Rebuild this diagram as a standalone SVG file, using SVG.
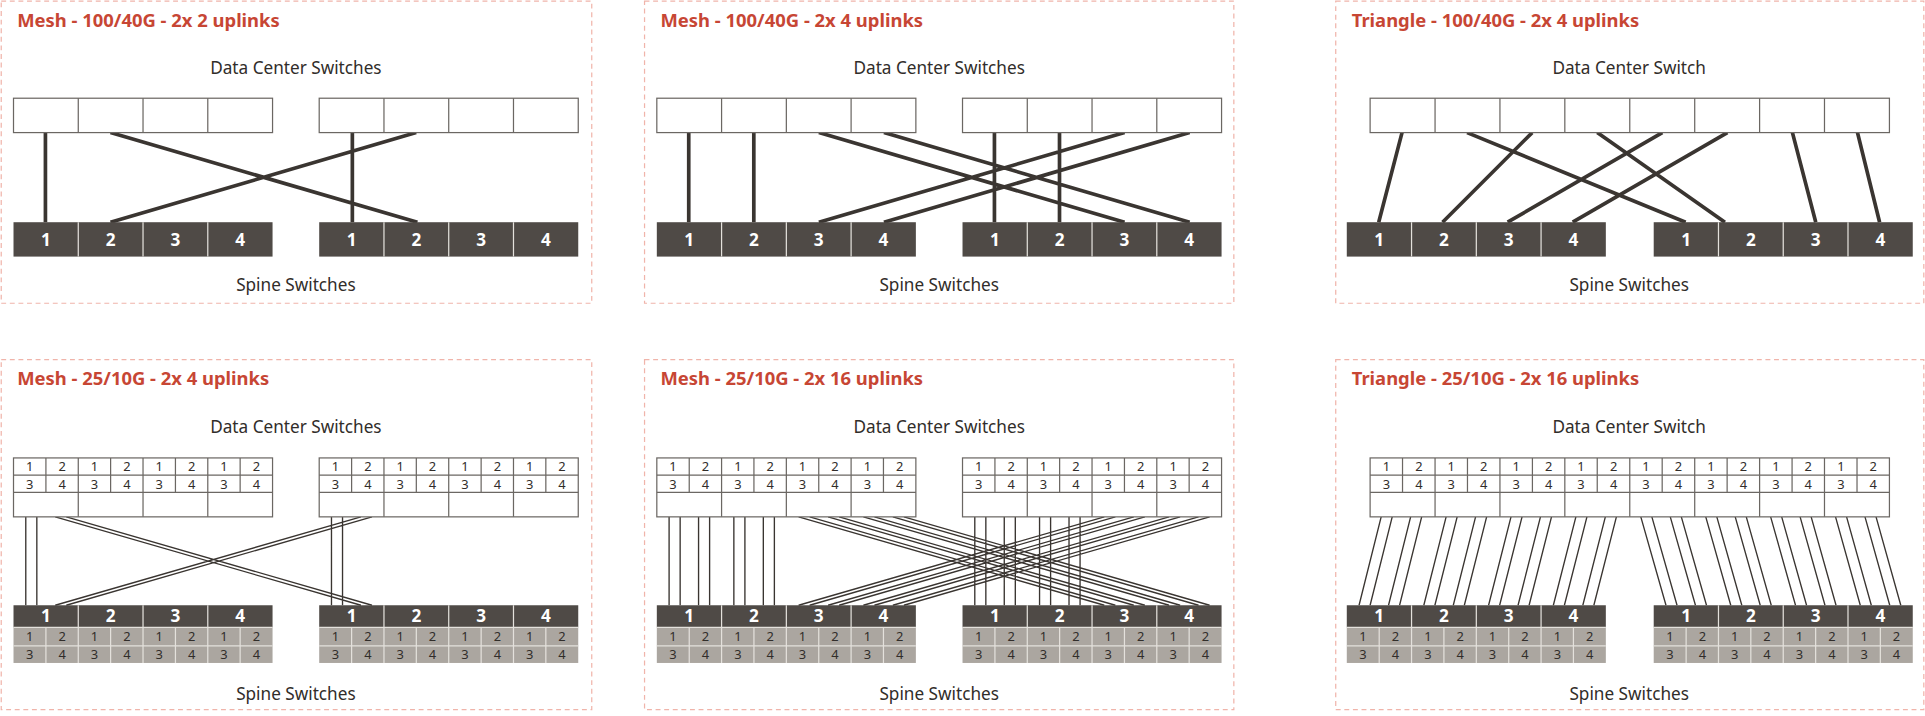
<svg xmlns="http://www.w3.org/2000/svg" width="1925" height="716" viewBox="0 0 1925 716">
<style>
.panel{fill:#fff;stroke:#f0b4aa;stroke-width:1;stroke-dasharray:4 3}
.title{font-family:"Noto Sans","Liberation Sans",sans-serif;font-weight:bold;font-size:15px;fill:#c74634}
.lbl{font-family:"Noto Sans","Liberation Sans",sans-serif;font-size:14px;fill:#312d2a;text-anchor:middle}
.box{fill:#fff;stroke:#6b6763;stroke-width:1}
.div{fill:none;stroke:#6b6763;stroke-width:1}
.dark{fill:#4f4a46}
.gray{fill:#aba6a0}
.sdiv{fill:none;stroke:#e4e1dc;stroke-width:1}
.num{font-family:"Noto Sans","Liberation Sans",sans-serif;font-weight:bold;font-size:14px;fill:#fff;text-anchor:middle}
.sm{font-family:"Noto Sans","Liberation Sans",sans-serif;font-size:10.5px;fill:#312d2a;text-anchor:middle}
.thick{fill:none;stroke:#3a3531;stroke-width:3}
.thin{fill:none;stroke:#3a3531;stroke-width:1.1}
</style>
<rect width="1925" height="716" fill="#fff"/>
<g transform="scale(1.2277)">
<!-- panels -->
<g id="panel1">
<rect class="panel" x="1" y="1" width="481" height="246"/>
<text class="title" x="14" y="22">Mesh - 100/40G - 2x 2 uplinks</text>
<text class="lbl" x="241" y="60">Data Center Switches</text>
<text class="lbl" x="241" y="237">Spine Switches</text>
</g>
<g id="panel2">
<rect class="panel" x="525" y="1" width="480" height="246"/>
<text class="title" x="538" y="22">Mesh - 100/40G - 2x 4 uplinks</text>
<text class="lbl" x="765" y="60">Data Center Switches</text>
<text class="lbl" x="765" y="237">Spine Switches</text>
</g>
<g id="panel3">
<rect class="panel" x="1088" y="1" width="479" height="246"/>
<text class="title" x="1101" y="22">Triangle - 100/40G - 2x 4 uplinks</text>
<text class="lbl" x="1327" y="60">Data Center Switch</text>
<text class="lbl" x="1327" y="237">Spine Switches</text>
</g>
<g id="panel4">
<rect class="panel" x="1" y="293" width="481" height="285"/>
<text class="title" x="14" y="314">Mesh - 25/10G - 2x 4 uplinks</text>
<text class="lbl" x="241" y="353">Data Center Switches</text>
<text class="lbl" x="241" y="570">Spine Switches</text>
</g>
<g id="panel5">
<rect class="panel" x="525" y="293" width="480" height="285"/>
<text class="title" x="538" y="314">Mesh - 25/10G - 2x 16 uplinks</text>
<text class="lbl" x="765" y="353">Data Center Switches</text>
<text class="lbl" x="765" y="570">Spine Switches</text>
</g>
<g id="panel6">
<rect class="panel" x="1088" y="293" width="479" height="285"/>
<text class="title" x="1101" y="314">Triangle - 25/10G - 2x 16 uplinks</text>
<text class="lbl" x="1327" y="353">Data Center Switch</text>
<text class="lbl" x="1327" y="570">Spine Switches</text>
</g>

<!-- connectors -->
<g id="connectors">
<path class="thick" d="M37 108V181 M90 108L340 181 M287 108V181 M339 108L90 181"/>
<path class="thick" d="M561 108V181 M614 108V181 M667 108L916 181 M720 108L969 181 M810 108V181 M863 108V181 M916 108L667 181 M969 108L720 181"/>
<path class="thick" stroke-width="2.6" d="M1142 108L1123 181 M1195 108L1373 181 M1248 108L1175 181 M1301 108L1405 181 M1354 108L1228 181 M1407 108L1281 181 M1460 108L1479 181 M1513 108L1531 181"/>
<path class="thin" d="M21 421V493 M30 421V493 M45 421L294 493 M54 421L303 493 M270 421V493 M279 421V493 M294 421L45 493 M303 421L54 493"/>
<path class="thin" d="M545 421V493 M554 421V493 M569 421V493 M578 421V493 M597.75 421V493 M606.75 421V493 M621.75 421V493 M630.75 421V493 M794 421V493 M803 421V493 M818 421V493 M827 421V493 M846.75 421V493 M855.75 421V493 M870.75 421V493 M879.75 421V493 M650.5 421L899.5 493 M659.5 421L908.5 493 M674.5 421L923.5 493 M683.5 421L932.5 493 M703.25 421L952.25 493 M712.25 421L961.25 493 M727.25 421L976.25 493 M736.25 421L985.25 493 M899.5 421L650.5 493 M908.5 421L659.5 493 M923.5 421L674.5 493 M932.5 421L683.5 493 M952.25 421L703.25 493 M961.25 421L712.25 493 M976.25 421L727.25 493 M985.25 421L736.25 493"/>
<path class="thin" d="M1125 421L1107 493 M1134 421L1116 493 M1149 421L1131 493 M1158 421L1140 493 M1177.9 421L1159.75 493 M1186.9 421L1168.75 493 M1201.9 421L1183.75 493 M1210.9 421L1192.75 493 M1230.75 421L1212.5 493 M1239.75 421L1221.5 493 M1254.75 421L1236.5 493 M1263.75 421L1245.5 493 M1283.6 421L1265.25 493 M1292.6 421L1274.25 493 M1307.6 421L1289.25 493 M1316.6 421L1298.25 493 M1336.5 421L1357 493 M1345.5 421L1366 493 M1360.5 421L1381 493 M1369.5 421L1390 493 M1389.4 421L1409.75 493 M1398.4 421L1418.75 493 M1413.4 421L1433.75 493 M1422.4 421L1442.75 493 M1442.25 421L1462.5 493 M1451.25 421L1471.5 493 M1466.25 421L1486.5 493 M1475.25 421L1495.5 493 M1495.1 421L1515.25 493 M1504.1 421L1524.25 493 M1519.1 421L1539.25 493 M1528.1 421L1548.25 493"/>
</g>

<!-- row 1 data center switches -->
<g id="dc1a"><rect class="box" x="11" y="80" width="211" height="28"/><path class="div" d="M63.75 80V108 M116.5 80V108 M169.25 80V108"/></g>
<g id="dc1b"><rect class="box" x="260" y="80" width="211" height="28"/><path class="div" d="M312.75 80V108 M365.5 80V108 M418.25 80V108"/></g>
<g id="dc2a"><rect class="box" x="535" y="80" width="211" height="28"/><path class="div" d="M587.75 80V108 M640.5 80V108 M693.25 80V108"/></g>
<g id="dc2b"><rect class="box" x="784" y="80" width="211" height="28"/><path class="div" d="M836.75 80V108 M889.5 80V108 M942.25 80V108"/></g>
<g id="dc3"><rect class="box" x="1116" y="80" width="423" height="28"/><path class="div" d="M1168.9 80V108 M1221.75 80V108 M1274.6 80V108 M1327.5 80V108 M1380.4 80V108 M1433.25 80V108 M1486.1 80V108"/></g>

<!-- row 1 spines -->
<g id="sp1a"><rect class="dark" x="11" y="181" width="211" height="28"/><path class="sdiv" d="M63.75 181V209 M116.5 181V209 M169.25 181V209"/><text class="num" x="37.4 90.1 142.9 195.6" y="200">1234</text></g>
<g id="sp1b"><rect class="dark" x="260" y="181" width="211" height="28"/><path class="sdiv" d="M312.75 181V209 M365.5 181V209 M418.25 181V209"/><text class="num" x="286.4 339.1 391.9 444.6" y="200">1234</text></g>
<g id="sp2a"><rect class="dark" x="535" y="181" width="211" height="28"/><path class="sdiv" d="M587.75 181V209 M640.5 181V209 M693.25 181V209"/><text class="num" x="561.4 614.1 666.9 719.6" y="200">1234</text></g>
<g id="sp2b"><rect class="dark" x="784" y="181" width="211" height="28"/><path class="sdiv" d="M836.75 181V209 M889.5 181V209 M942.25 181V209"/><text class="num" x="810.4 863.1 915.9 968.6" y="200">1234</text></g>
<g id="sp3a"><rect class="dark" x="1097" y="181" width="211" height="28"/><path class="sdiv" d="M1149.75 181V209 M1202.5 181V209 M1255.25 181V209"/><text class="num" x="1123.4 1176.1 1228.9 1281.6" y="200">1234</text></g>
<g id="sp3b"><rect class="dark" x="1347" y="181" width="211" height="28"/><path class="sdiv" d="M1399.75 181V209 M1452.5 181V209 M1505.25 181V209"/><text class="num" x="1373.4 1426.1 1478.9 1531.6" y="200">1234</text></g>

<!-- row 2 data center switches -->
<g id="dc4a"><rect class="box" x="11" y="373" width="211" height="48"/><path class="div" d="M11 387H222 M11 401H222 M37.4 373V401 M90.1 373V401 M142.9 373V401 M195.6 373V401 M63.75 373V421 M116.5 373V421 M169.25 373V421"/>
<text class="sm" x="24.2 50.6 77 103.3 129.7 156.1 182.5 208.8" y="384">12121212</text><text class="sm" x="24.2 50.6 77 103.3 129.7 156.1 182.5 208.8" y="398">34343434</text></g>
<g id="dc4b"><rect class="box" x="260" y="373" width="211" height="48"/><path class="div" d="M260 387H471 M260 401H471 M286.4 373V401 M339.1 373V401 M391.9 373V401 M444.6 373V401 M312.75 373V421 M365.5 373V421 M418.25 373V421"/>
<text class="sm" x="273.2 299.6 326 352.3 378.7 405.1 431.5 457.8" y="384">12121212</text><text class="sm" x="273.2 299.6 326 352.3 378.7 405.1 431.5 457.8" y="398">34343434</text></g>
<g id="dc5a"><rect class="box" x="535" y="373" width="211" height="48"/><path class="div" d="M535 387H746 M535 401H746 M561.4 373V401 M614.1 373V401 M666.9 373V401 M719.6 373V401 M587.75 373V421 M640.5 373V421 M693.25 373V421"/>
<text class="sm" x="548.2 574.6 601 627.3 653.7 680.1 706.5 732.8" y="384">12121212</text><text class="sm" x="548.2 574.6 601 627.3 653.7 680.1 706.5 732.8" y="398">34343434</text></g>
<g id="dc5b"><rect class="box" x="784" y="373" width="211" height="48"/><path class="div" d="M784 387H995 M784 401H995 M810.4 373V401 M863.1 373V401 M915.9 373V401 M968.6 373V401 M836.75 373V421 M889.5 373V421 M942.25 373V421"/>
<text class="sm" x="797.2 823.6 850 876.3 902.7 929.1 955.5 981.8" y="384">12121212</text><text class="sm" x="797.2 823.6 850 876.3 902.7 929.1 955.5 981.8" y="398">34343434</text></g>
<g id="dc6"><rect class="box" x="1116" y="373" width="423" height="48"/><path class="div" d="M1116 387H1539 M1116 401H1539 M1142.4 373V401 M1195.3 373V401 M1248.2 373V401 M1301 373V401 M1353.9 373V401 M1406.8 373V401 M1459.7 373V401 M1512.6 373V401 M1168.9 373V421 M1221.75 373V421 M1274.6 373V421 M1327.5 373V421 M1380.4 373V421 M1433.25 373V421 M1486.1 373V421"/>
<text class="sm" x="1129.2 1155.7 1182.1 1208.5 1235 1261.4 1287.8 1314.3 1340.7 1367.2 1393.6 1420 1446.5 1472.9 1499.4 1525.8" y="384">1212121212121212</text><text class="sm" x="1129.2 1155.7 1182.1 1208.5 1235 1261.4 1287.8 1314.3 1340.7 1367.2 1393.6 1420 1446.5 1472.9 1499.4 1525.8" y="398">3434343434343434</text></g>

<!-- row 2 spines -->
<g id="sp4a"><rect class="dark" x="11" y="493" width="211" height="18"/><rect class="gray" x="11" y="511" width="211" height="29"/><path class="sdiv" d="M11 511H222 M11 526H222 M63.75 493V540 M116.5 493V540 M169.25 493V540 M37.4 511V540 M90.1 511V540 M142.9 511V540 M195.6 511V540"/>
<text class="num" x="37.4 90.1 142.9 195.6" y="507">1234</text><text class="sm" x="24.2 50.6 77 103.3 129.7 156.1 182.5 208.8" y="522">12121212</text><text class="sm" x="24.2 50.6 77 103.3 129.7 156.1 182.5 208.8" y="537">34343434</text></g>
<g id="sp4b"><rect class="dark" x="260" y="493" width="211" height="18"/><rect class="gray" x="260" y="511" width="211" height="29"/><path class="sdiv" d="M260 511H471 M260 526H471 M312.75 493V540 M365.5 493V540 M418.25 493V540 M286.4 511V540 M339.1 511V540 M391.9 511V540 M444.6 511V540"/>
<text class="num" x="286.4 339.1 391.9 444.6" y="507">1234</text><text class="sm" x="273.2 299.6 326 352.3 378.7 405.1 431.5 457.8" y="522">12121212</text><text class="sm" x="273.2 299.6 326 352.3 378.7 405.1 431.5 457.8" y="537">34343434</text></g>
<g id="sp5a"><rect class="dark" x="535" y="493" width="211" height="18"/><rect class="gray" x="535" y="511" width="211" height="29"/><path class="sdiv" d="M535 511H746 M535 526H746 M587.75 493V540 M640.5 493V540 M693.25 493V540 M561.4 511V540 M614.1 511V540 M666.9 511V540 M719.6 511V540"/>
<text class="num" x="561.4 614.1 666.9 719.6" y="507">1234</text><text class="sm" x="548.2 574.6 601 627.3 653.7 680.1 706.5 732.8" y="522">12121212</text><text class="sm" x="548.2 574.6 601 627.3 653.7 680.1 706.5 732.8" y="537">34343434</text></g>
<g id="sp5b"><rect class="dark" x="784" y="493" width="211" height="18"/><rect class="gray" x="784" y="511" width="211" height="29"/><path class="sdiv" d="M784 511H995 M784 526H995 M836.75 493V540 M889.5 493V540 M942.25 493V540 M810.4 511V540 M863.1 511V540 M915.9 511V540 M968.6 511V540"/>
<text class="num" x="810.4 863.1 915.9 968.6" y="507">1234</text><text class="sm" x="797.2 823.6 850 876.3 902.7 929.1 955.5 981.8" y="522">12121212</text><text class="sm" x="797.2 823.6 850 876.3 902.7 929.1 955.5 981.8" y="537">34343434</text></g>
<g id="sp6a"><rect class="dark" x="1097" y="493" width="211" height="18"/><rect class="gray" x="1097" y="511" width="211" height="29"/><path class="sdiv" d="M1097 511H1308 M1097 526H1308 M1149.75 493V540 M1202.5 493V540 M1255.25 493V540 M1123.4 511V540 M1176.1 511V540 M1228.9 511V540 M1281.6 511V540"/>
<text class="num" x="1123.4 1176.1 1228.9 1281.6" y="507">1234</text><text class="sm" x="1110.2 1136.6 1163 1189.3 1215.7 1242.1 1268.5 1294.8" y="522">12121212</text><text class="sm" x="1110.2 1136.6 1163 1189.3 1215.7 1242.1 1268.5 1294.8" y="537">34343434</text></g>
<g id="sp6b"><rect class="dark" x="1347" y="493" width="211" height="18"/><rect class="gray" x="1347" y="511" width="211" height="29"/><path class="sdiv" d="M1347 511H1558 M1347 526H1558 M1399.75 493V540 M1452.5 493V540 M1505.25 493V540 M1373.4 511V540 M1426.1 511V540 M1478.9 511V540 M1531.6 511V540"/>
<text class="num" x="1373.4 1426.1 1478.9 1531.6" y="507">1234</text><text class="sm" x="1360.2 1386.6 1413 1439.3 1465.7 1492.1 1518.5 1544.8" y="522">12121212</text><text class="sm" x="1360.2 1386.6 1413 1439.3 1465.7 1492.1 1518.5 1544.8" y="537">34343434</text></g>
</g>
</svg>
